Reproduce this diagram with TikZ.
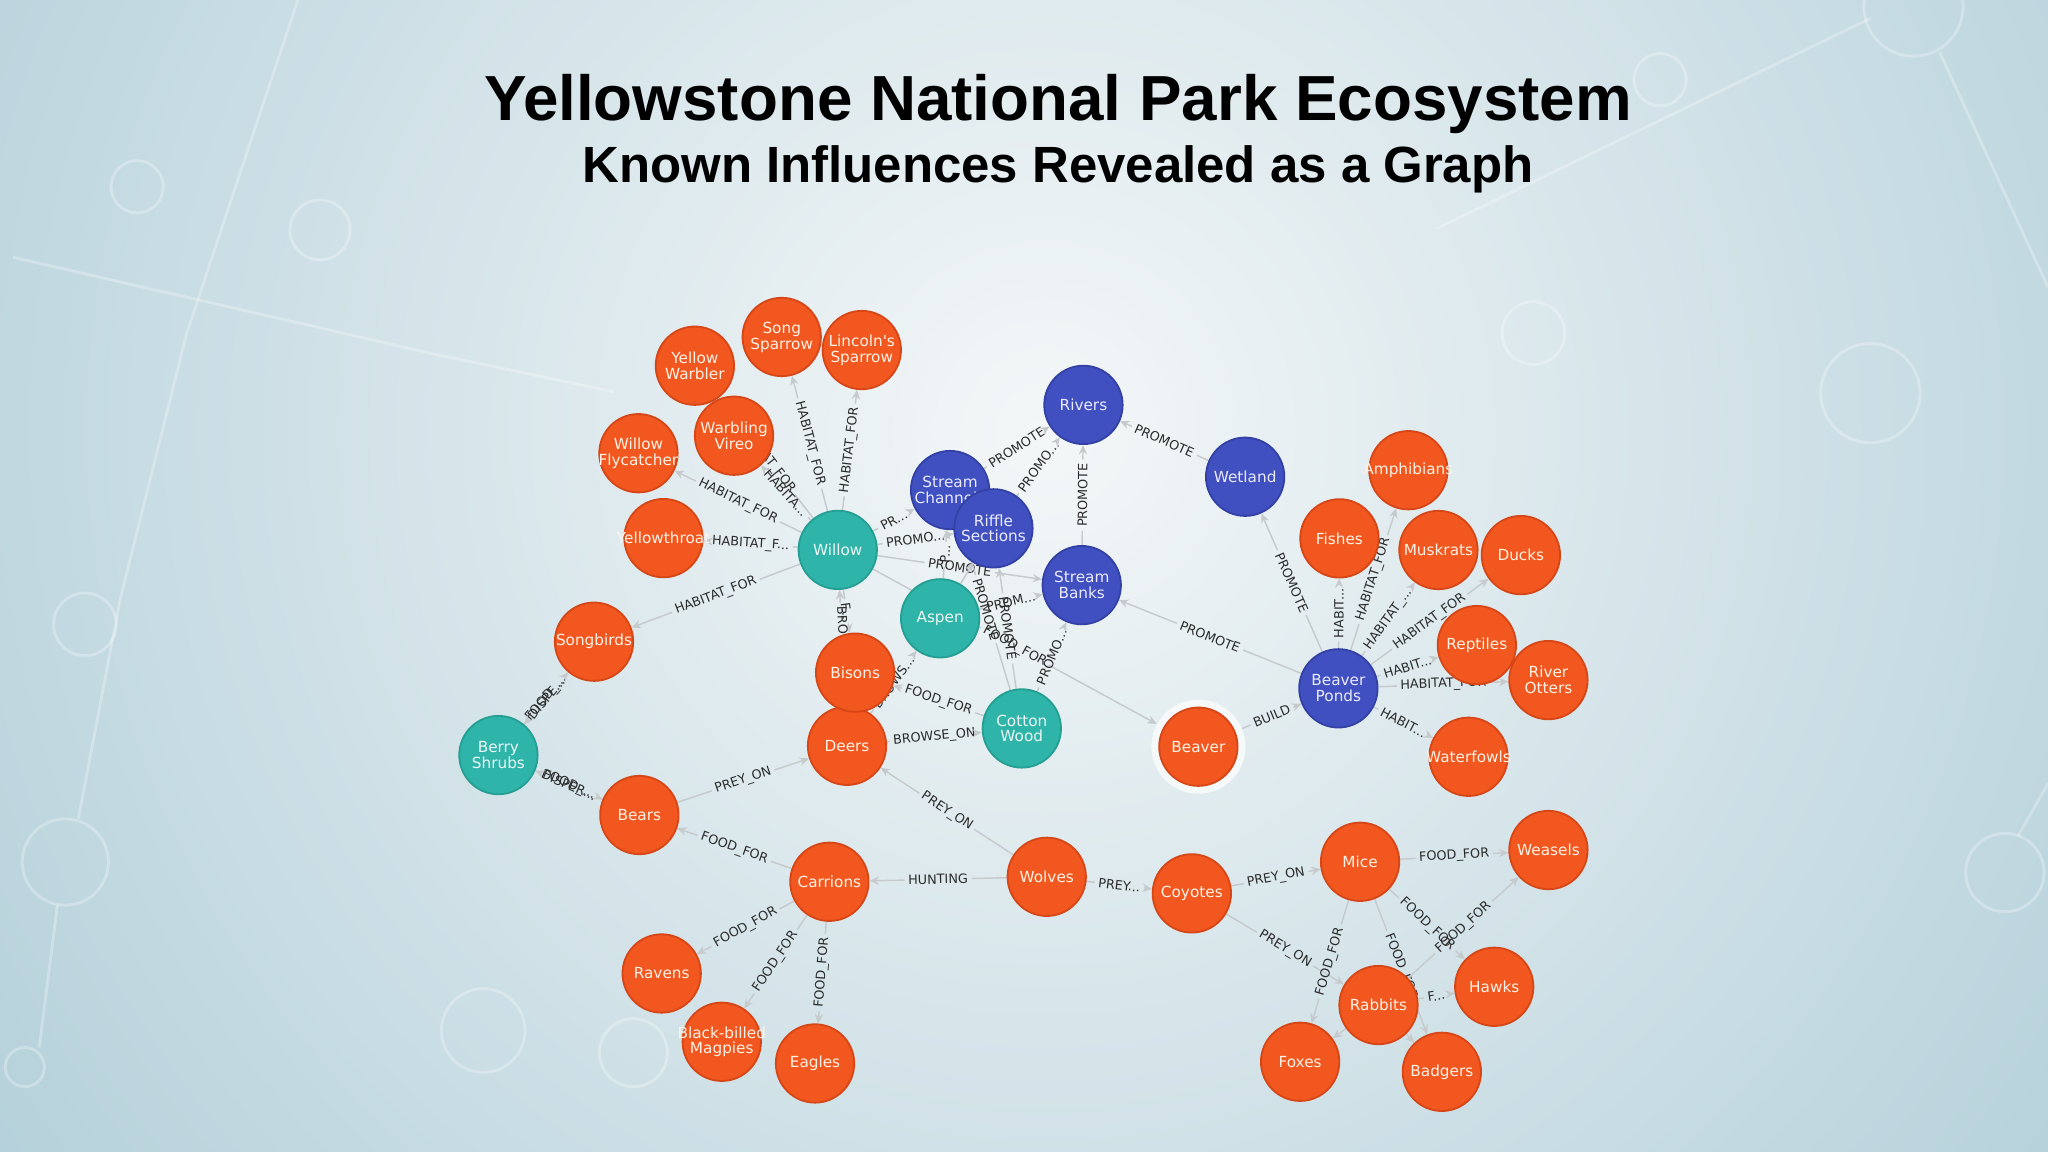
\documentclass[tikz,border=0pt]{standalone}
\usepackage{fontspec}
\setmainfont{DejaVu Sans}
\newfontfamily\titlefont{Liberation Sans}
\usetikzlibrary{arrows.meta}
\pgfdeclarelayer{bg}
\pgfdeclarelayer{edges}
\pgfsetlayers{bg,edges,main}
\definecolor{bgin}{HTML}{F4F7F8}
\definecolor{bgout}{HTML}{B2CFD9}
\definecolor{orgF}{HTML}{F1571F}
\definecolor{orgD}{HTML}{D64616}
\definecolor{bluF}{HTML}{4050C0}
\definecolor{bluD}{HTML}{3341A5}
\definecolor{tealF}{HTML}{2EB4A8}
\definecolor{tealD}{HTML}{259E93}
\definecolor{edgeC}{HTML}{C6CACC}
\definecolor{labC}{HTML}{2B2B2B}
\tikzset{
  ent/.style={circle, minimum size=30pt, inner sep=0pt, line width=0.7pt},
  ntext/.style={inner sep=0pt, align=center, font=\fontsize{5.85}{6.1}\selectfont},
  sp/.style={ent, fill=orgF, draw=orgD},
  pl/.style={ent, fill=tealF, draw=tealD},
  hb/.style={ent, fill=bluF, draw=bluD},
  spt/.style={ntext, text=white!90!orange},
  plt/.style={ntext, text=white!93!teal},
  hbt/.style={ntext, text=white!92!blue},
  halo/.style={circle, minimum size=36pt, inner sep=0pt, fill=white, opacity=0.7},
  eline/.style={draw=edgeC, line width=0.55pt},
  elab/.style={sloped, inner sep=1.2pt, text=labC, font=\fontsize{4.9}{5}\selectfont},
  tip/.style={-{Stealth[length=3.6pt,width=3.2pt]}},
  deco/.style={draw=white, opacity=0.28, line width=1.1pt},
}
% entity: style, name, position, text
\newcommand\ent[4]{\node[#1, label={[#1t]center:#4}] (#2) at (#3) {};}
\newcommand\rel[3]{%
  \path (#1) -- node[elab] (#1-#2) {#3} (#2);
  \draw[eline] (#1) -- (#1-#2);
  \draw[eline,tip] (#1-#2) -- (#2);}
\newcommand\relbare[2]{\draw[eline,tip] (#1) -- (#2);}
\begin{document}
\begin{tikzpicture}[x=0.5pt,y=-0.5pt]
\useasboundingbox (0,0) rectangle (1568,882);
\begin{pgfonlayer}{bg}
  \fill[bgout] (0,0) rectangle (1568,882);
  \begin{scope}
    \clip (0,0) rectangle (1568,882);
    \shade[inner color=bgin, outer color=bgout] (800,330) circle (510pt);
    \draw[deco] (228,0) -- (143,255) -- (92,459) -- (60,627);
    \draw[deco] (50,660) circle (16.5pt);
    \draw[deco] (44,693) -- (30,802);
    \draw[deco] (19,817) circle (7.5pt);
    \draw[deco] (10,197) -- (332,271) -- (470,300);
    \draw[deco] (105,143) circle (10pt);
    \draw[deco] (245,176) circle (11.5pt);
    \draw[deco] (65,478) circle (12pt);
    \draw[deco] (1465,5) circle (19pt);
    \draw[deco] (1432,14) -- (1100,175);
    \draw[deco] (1485,40) -- (1568,220);
    \draw[deco] (1271,61) circle (10pt);
    \draw[deco] (1432,301) circle (19pt);
    \draw[deco] (1174,255) circle (12pt);
    \draw[deco] (370,789) circle (16pt);
    \draw[deco] (485,806) circle (13pt);
    \draw[deco] (1535,668) circle (15pt);
    \draw[deco] (1568,600) -- (1545,640);
  \end{scope}
\end{pgfonlayer}

\node[anchor=base, font=\titlefont\bfseries\fontsize{24.4}{28}\selectfont] (title) at (810,92) {Yellowstone National Park Ecosystem};
\node[anchor=base, font=\titlefont\bfseries\fontsize{19.5}{23}\selectfont] (subtitle) at (810,140) {Known Influences Revealed as a Graph};

% species around willow
\ent{sp}{YWarbler}{532,280}{Yellow\\Warbler}
\ent{sp}{SSparrow}{598.5,258}{Song\\Sparrow}
\ent{sp}{Lincoln}{659.8,268}{Lincoln{\textquotesingle}s\\Sparrow}
\ent{sp}{WVireo}{562,333.6}{Warbling\\Vireo}
\ent{sp}{WFly}{488.8,347}{Willow\\Flycatcher}
\ent{sp}{YThroat}{508,412}{Yellowthroat}
\ent{pl}{Willow}{641.4,421}{Willow}
% habitats
\ent{hb}{SChann}{727.4,375.2}{Stream\\Channels}
\ent{hb}{Riffle}{760.6,404.5}{Riffle\\Sections}
\ent{hb}{Rivers}{829.5,310}{Rivers}
\ent{hb}{Wetland}{953.3,365}{Wetland}
\ent{hb}{SBanks}{828.2,448}{Stream\\Banks}
\ent{pl}{Aspen}{719.8,473.4}{Aspen}
\ent{sp}{Songbirds}{454.8,491.3}{Songbirds}
\ent{sp}{Deers}{648.5,571}{Deers}
\ent{sp}{Bisons}{654.7,515}{Bisons}
\ent{pl}{CWood}{782.3,557.7}{Cotton\\Wood}
\node[halo] (Bvh) at (917.5,571.7) {};
\ent{sp}{Beaver}{917.5,571.7}{Beaver}
\ent{hb}{BPonds}{1024.7,527}{Beaver\\Ponds}
\ent{sp}{Fishes}{1025.5,412.2}{Fishes}
\ent{sp}{Amphib}{1078.3,360}{Amphibians}
\ent{sp}{Muskrats}{1101.3,421.1}{Muskrats}
\ent{sp}{Ducks}{1164.4,425}{Ducks}
\ent{sp}{Reptiles}{1130.7,493.9}{Reptiles}
\ent{sp}{ROtters}{1185.5,520.7}{River\\Otters}
\ent{sp}{Waterfowls}{1124.3,579.4}{Waterfowls}
% food web
\ent{pl}{Berry}{381.6,578.1}{Berry\\Shrubs}
\ent{sp}{Bears}{489.5,624}{Bears}
\ent{sp}{Carrions}{635,675.1}{Carrions}
\ent{sp}{Wolves}{801.4,671.3}{Wolves}
\ent{sp}{Ravens}{506.6,745.3}{Ravens}
\ent{sp}{Magpies}{552.6,797.6}{Black-billed\\Magpies}
\ent{sp}{Eagles}{624,814.2}{Eagles}
\ent{sp}{Coyotes}{912.5,684}{Coyotes}
\ent{sp}{Mice}{1041.3,659.8}{Mice}
\ent{sp}{Weasels}{1185.5,650.8}{Weasels}
\ent{sp}{Rabbits}{1055.4,769.5}{Rabbits}
\ent{sp}{Hawks}{1144,755.5}{Hawks}
\ent{sp}{Foxes}{995.4,812.9}{Foxes}
\ent{sp}{Badgers}{1103.9,820.6}{Badgers}

\begin{pgfonlayer}{edges}
\rel{Willow}{YWarbler}{HABITAT\_FOR}
\rel{Willow}{SSparrow}{HABITAT\_FOR}
\rel{Willow}{Lincoln}{HABITAT\_FOR}
\rel{Willow}{WVireo}{HABITA...}
\rel{Willow}{WFly}{HABITAT\_FOR}
\rel{Willow}{YThroat}{HABITAT\_F...}
\rel{Willow}{Songbirds}{HABITAT\_FOR}
\rel{Willow}{SChann}{PR...}
\rel{Willow}{Riffle}{PROMO...}
\rel{Willow}{SBanks}{PROMOTE}
\rel{Willow}{Bvh}{FOOD\_FOR}
\rel{Willow}{Bisons}{F...}
\rel{Deers}{Willow}{BROWSE\_ON}
\rel{Aspen}{SChann}{P...}
\relbare{Aspen}{Riffle}
\rel{Aspen}{SBanks}{PROM...}
\rel{Deers}{Aspen}{BROWS...}
\rel{Deers}{CWood}{BROWSE\_ON}
\rel{CWood}{Bisons}{FOOD\_FOR}
\rel{CWood}{SChann}{PROMOTE}
\rel{CWood}{Riffle}{PROMOTE}
\rel{CWood}{SBanks}{PROMO...}
\rel{SChann}{Rivers}{PROMOTE}
\rel{Riffle}{Rivers}{PROMO...}
\rel{SBanks}{Rivers}{PROMOTE}
\rel{Wetland}{Rivers}{PROMOTE}
\rel{BPonds}{Wetland}{PROMOTE}
\rel{BPonds}{SBanks}{PROMOTE}
\rel{Bvh}{BPonds}{BUILD}
\rel{BPonds}{Fishes}{HABIT...}
\rel{BPonds}{Amphib}{HABITAT\_FOR}
\rel{BPonds}{Muskrats}{HABITAT\_...}
\rel{BPonds}{Ducks}{HABITAT\_FOR}
\rel{BPonds}{Reptiles}{HABIT...}
\rel{BPonds}{ROtters}{HABITAT\_FOR}
\rel{BPonds}{Waterfowls}{HABIT...}
\rel{Berry}{Songbirds}{FOOD\_...}
\rel{Songbirds}{Berry}{DISPE...}
\rel{Berry}{Bears}{FOOD\_...}
\rel{Bears}{Berry}{DISPER...}
\rel{Bears}{Deers}{PREY\_ON}
\rel{Carrions}{Bears}{FOOD\_FOR}
\rel{Wolves}{Carrions}{HUNTING}
\rel{Wolves}{Deers}{PREY\_ON}
\rel{Wolves}{Coyotes}{PREY...}
\rel{Carrions}{Ravens}{FOOD\_FOR}
\rel{Carrions}{Magpies}{FOOD\_FOR}
\rel{Carrions}{Eagles}{FOOD\_FOR}
\rel{Coyotes}{Mice}{PREY\_ON}
\rel{Coyotes}{Rabbits}{PREY\_ON}
\rel{Mice}{Weasels}{FOOD\_FOR}
\rel{Mice}{Foxes}{FOOD\_FOR}
\rel{Mice}{Badgers}{FOOD\_FOR}
\rel{Mice}{Hawks}{FOOD\_FOR}
\rel{Rabbits}{Weasels}{FOOD\_FOR}
\rel{Rabbits}{Hawks}{F...}
\relbare{Rabbits}{Foxes}
\relbare{Rabbits}{Badgers}
\end{pgfonlayer}
\end{tikzpicture}
\end{document}
